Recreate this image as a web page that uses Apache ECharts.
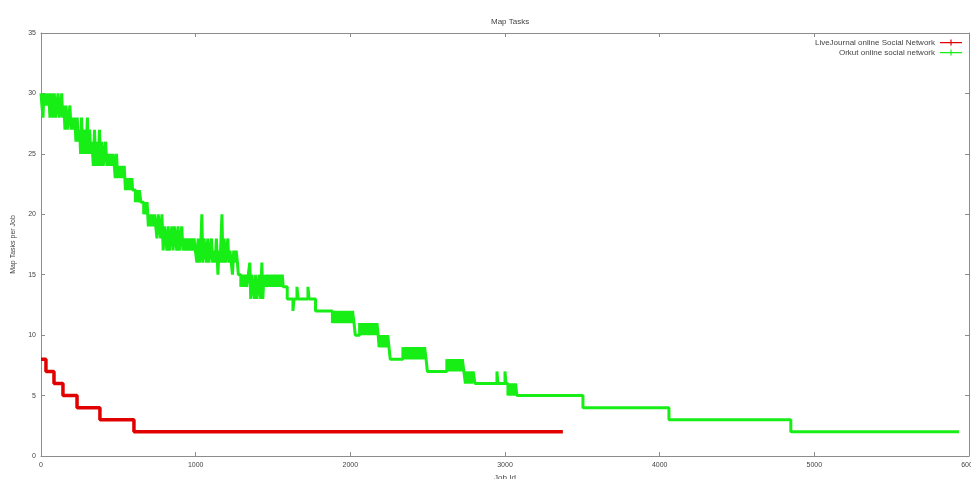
<!DOCTYPE html>
<html>
<head>
<meta charset="utf-8">
<title>Map Tasks</title>
<script src="https://cdn.jsdelivr.net/npm/echarts@6/dist/echarts.min.js"></script>
<style>
  html, body { margin: 0; padding: 0; background: #fff; }
  #main { width: 971px; height: 479px; }
</style>
</head>
<body>
<div id="main"></div>
<script>
var seriesNames = ['LiveJournal online Social Network', 'Orkut online social network']
var xTicks = [0, 1000, 2000, 3000, 4000, 5000, 6000]
var yTicks = [0, 5, 10, 15, 20, 25, 30, 35]

// [job id, map tasks]
var liveJournal = [
  [0, 8], [32, 7], [84, 6], [142, 5], [233, 4], [381, 3], [601, 2], [3374, 2]
]

// block by block
var orkut = [
  [0, 30], [6, 29], [13, 28], [18, 30], [26, 29], [34, 30], [42, 29], [50, 30],
  [58, 28], [66, 30], [74, 29], [78, 28], [86, 30], [94, 28], [102, 29], [110, 30], [118, 28], [126, 29], [134, 30],
  [140, 28], [148, 29], [155, 27], [162, 29], [170, 27], [178, 28], [187, 29],
  [194, 27], [202, 28], [210, 27], [218, 28], [226, 26], [234, 28], [242, 26], [250, 27],
  [256, 25], [262, 28], [270, 25], [278, 27], [286, 25], [294, 26], [300, 28], [306, 25], [314, 27], [322, 25], [330, 26],
  [338, 24], [346, 27], [354, 24], [362, 26], [370, 24], [378, 27],
  [386, 24], [394, 26], [402, 24], [410, 25], [418, 26], [426, 24],
  [434, 25], [442, 24], [450, 25], [458, 24], [466, 25], [474, 24],
  [480, 23], [488, 25], [496, 23], [504, 24], [512, 23], [520, 24], [530, 23], [538, 24],
  [546, 22], [554, 23], [562, 22], [570, 23], [580, 22], [588, 23], [592, 22],
  [610, 21], [618, 22], [626, 21], [636, 22], [646, 21],
  [656, 21], [664, 20], [670, 21], [680, 20], [686, 21],
  [694, 19], [702, 20], [710, 19], [718, 20], [726, 19], [734, 20], [742, 19],
  [750, 18], [758, 20], [766, 19], [774, 18], [782, 20],
  [790, 17], [798, 19], [806, 18], [814, 17], [822, 19], [830, 17], [838, 18], [846, 19], [854, 17],
  [862, 19], [870, 18], [878, 17], [886, 19], [894, 17], [902, 18], [910, 19], [918, 17],
  [926, 18], [934, 17], [942, 18], [950, 17], [958, 18], [966, 17], [974, 18], [982, 17], [990, 18], [998, 17],
  [1008, 16], [1016, 18], [1024, 16], [1032, 17], [1040, 20], [1046, 16], [1054, 18],
  [1062, 17], [1070, 16], [1078, 18], [1086, 16], [1094, 17], [1102, 18], [1110, 16], [1118, 17], [1126, 16],
  [1134, 18], [1144, 15], [1150, 17], [1158, 16], [1170, 20], [1176, 16], [1184, 18], [1192, 16], [1200, 17], [1208, 18],
  [1214, 16], [1222, 17], [1230, 16], [1238, 15], [1246, 17], [1254, 16], [1262, 17], [1270, 16],
  [1276, 15], [1292, 14], [1300, 15], [1310, 14], [1320, 15], [1330, 14], [1340, 15],
  [1350, 16], [1356, 13], [1364, 15], [1372, 14], [1380, 13], [1388, 15], [1396, 13], [1404, 14], [1412, 15], [1420, 13],
  [1428, 16], [1434, 13], [1442, 15],
  [1450, 14], [1460, 15], [1470, 14], [1480, 15], [1490, 14], [1500, 15], [1510, 14], [1520, 15], [1530, 14], [1540, 15],
  [1550, 14], [1560, 15], [1566, 14],
  [1592, 13], [1629, 12], [1636, 13], [1655, 14], [1662, 13], [1726, 14], [1733, 13],
  [1775, 12],
  [1884, 11], [1894, 12], [1904, 11], [1914, 12], [1924, 11], [1934, 12], [1944, 11], [1954, 12], [1964, 11], [1974, 12],
  [1984, 11], [1994, 12], [2004, 11], [2014, 12], [2024, 11],
  [2032, 10], [2060, 11], [2068, 10], [2076, 11], [2084, 10], [2092, 11], [2100, 10], [2108, 11], [2116, 10], [2124, 11],
  [2132, 10], [2140, 11], [2148, 10], [2156, 11], [2164, 10], [2172, 11], [2180, 10],
  [2186, 9], [2194, 10], [2202, 9], [2210, 10], [2218, 9], [2226, 10], [2234, 9], [2242, 10], [2250, 9],
  [2258, 8],
  [2340, 9], [2350, 8], [2360, 9], [2370, 8], [2380, 9], [2390, 8], [2400, 9], [2410, 8], [2420, 9], [2430, 8],
  [2440, 9], [2450, 8], [2460, 9], [2470, 8], [2480, 9], [2490, 8],
  [2498, 7],
  [2624, 8], [2634, 7], [2644, 8], [2654, 7], [2664, 8], [2674, 7], [2684, 8], [2694, 7], [2704, 8], [2714, 7], [2724, 8], [2734, 7],
  [2744, 6], [2754, 7], [2764, 6], [2774, 7], [2784, 6], [2794, 7],
  [2806, 6], [2948, 7], [2954, 6], [3000, 7], [3006, 6],
  [3019, 5], [3028, 6], [3038, 5], [3048, 6], [3058, 5], [3068, 6], [3077, 5],
  [3504, 4], [4060, 3], [4848, 2], [5935, 2]
]

var myChart = echarts.init(document.getElementById('main'))

var textColor = '#444'
var frameColor = '#8c8c8c'
var font = 'Liberation Sans'
// line with a plus mark, like the gnuplot key
var keyIcon = 'path://M0,3.5h22v1.2h-22z M10.4,1h1.2v6h-1.2z'

var plainNumber = function (v) {
  return String(v)
}

var option = {
  animation: false,
  backgroundColor: '#fff',
  title: {
    text: 'Map Tasks',
    left: 486,
    top: 13,
    textStyle: { fontSize: 8, fontWeight: 'normal', color: textColor, fontFamily: font },
  },
  legend: {
    data: [
      { name: seriesNames[0], icon: keyIcon },
      { name: seriesNames[1], icon: keyIcon },
    ],
    orient: 'vertical',
    align: 'right',
    right: 9,
    top: 38,
    padding: 0,
    itemGap: 1,
    itemWidth: 22,
    itemHeight: 8,
    textStyle: { fontSize: 8, color: textColor, fontFamily: font, lineHeight: 9 },
  },
  grid: {
    left: 41,
    right: 2,
    top: 33,
    bottom: 23,
    containLabel: false,
    outerBoundsMode: 'none',
  },
  xAxis: [
    {
      type: 'value',
      min: xTicks[0],
      max: xTicks[xTicks.length - 1],
      interval: xTicks[1] - xTicks[0],
      name: 'Job Id',
      nameLocation: 'middle',
      nameGap: 18,
      nameTextStyle: { fontSize: 8, color: textColor, fontFamily: font },
      axisLine: { onZero: false, lineStyle: { color: frameColor } },
      axisTick: { inside: true, length: 4, lineStyle: { color: frameColor } },
      axisLabel: { fontSize: 7, color: textColor, fontFamily: font, margin: 6, formatter: plainNumber },
      splitLine: { show: false },
    },
    {
      type: 'value',
      position: 'top',
      min: xTicks[0],
      max: xTicks[xTicks.length - 1],
      interval: xTicks[1] - xTicks[0],
      axisLine: { show: true, onZero: false, lineStyle: { color: frameColor } },
      axisTick: { show: true, inside: true, length: 4, lineStyle: { color: frameColor } },
      axisLabel: { show: false },
      splitLine: { show: false },
    },
  ],
  yAxis: [
    {
      type: 'value',
      min: yTicks[0],
      max: yTicks[yTicks.length - 1],
      interval: yTicks[1] - yTicks[0],
      name: 'Map Tasks per Job',
      nameLocation: 'middle',
      nameGap: 24,
      nameTextStyle: { fontSize: 7, color: textColor, fontFamily: font },
      axisLine: { show: true, onZero: false, lineStyle: { color: frameColor } },
      axisTick: { show: true, inside: true, length: 4, lineStyle: { color: frameColor } },
      axisLabel: { fontSize: 7, color: textColor, fontFamily: font, margin: 5 },
      splitLine: { show: false },
    },
    {
      type: 'value',
      position: 'right',
      min: yTicks[0],
      max: yTicks[yTicks.length - 1],
      interval: yTicks[1] - yTicks[0],
      axisLine: { show: true, onZero: false, lineStyle: { color: frameColor } },
      axisTick: { show: true, inside: true, length: 4, lineStyle: { color: frameColor } },
      axisLabel: { show: false },
      splitLine: { show: false },
    },
  ],
  series: [
    {
      name: seriesNames[0],
      type: 'line',
      step: 'end',
      xAxisIndex: 0,
      yAxisIndex: 0,
      symbol: 'none',
      color: '#e00000',
      lineStyle: { width: 3.5, color: '#e00000' },
      data: liveJournal,
    },
    {
      name: seriesNames[1],
      type: 'line',
      step: 'end',
      xAxisIndex: 0,
      yAxisIndex: 0,
      symbol: 'none',
      color: '#16ee16',
      lineStyle: { width: 3, color: '#16ee16' },
      data: orkut,
    },
  ],
}

myChart.setOption(option)
</script>
</body>
</html>
